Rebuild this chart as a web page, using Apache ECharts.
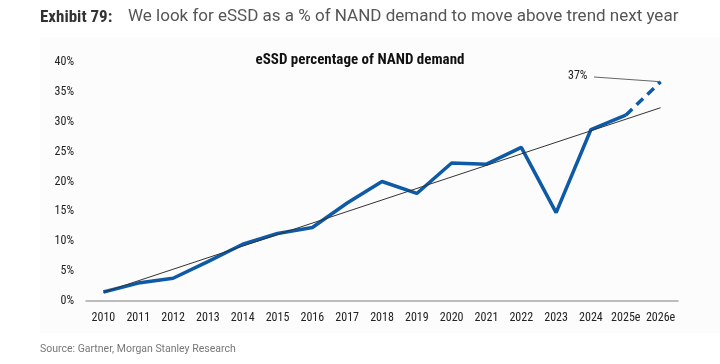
<!DOCTYPE html>
<html><head><meta charset="utf-8">
<script src="https://cdn.jsdelivr.net/npm/echarts@6/dist/echarts.min.js"></script>
<style>html,body{margin:0;padding:0;background:#fff}#c{width:720px;height:364px}</style>
</head><body><div id="c"></div>
<script>
const categories = ['2010','2011','2012','2013','2014','2015','2016','2017','2018','2019','2020','2021','2022','2023','2024','2025e','2026e'];
const essdShare = [1.5, 3.0, 3.8, 6.6, 9.5, 11.3, 12.3, 16.4, 20.0, 18.0, 23.1, 22.9, 25.7, 14.8, 28.7, 31.1, 36.7];
const forecastShare = [null,null,null,null,null,null,null,null,null,null,null,null,null,null,null,31.1,36.7];
const trendStart = 1.45, trendEnd = 32.35;
const yTicks = [0,5,10,15,20,25,30,35,40];

const solid = essdShare.map((v,i)=> i <= 15 ? v : null);
const FONT = '"Roboto Condensed","Liberation Sans Narrow","DejaVu Sans Condensed",Roboto,sans-serif';
const chart = echarts.init(document.getElementById('c'), null, {renderer:'canvas'});
chart.setOption({
  animation:false,
  backgroundColor:'#fff',
  graphic:[
    {type:'rect', shape:{x:40,y:37,width:680,height:296}, style:{fill:'#fcfcfc'}, z:-10},
    {type:'text', left:40, top:9, style:{text:'Exhibit 79:', fontFamily:FONT,fontWeight:'bold',fontSize:17,fill:'#333'}},
    {type:'text', left:128, top:8, style:{text:'We look for eSSD as a % of NAND demand to move above trend next year', fontFamily:'Roboto,sans-serif',fontSize:17,fill:'#555'}},
    {type:'text', left:40, top:344, style:{text:'Source: Gartner, Morgan Stanley Research', fontFamily:'Roboto,sans-serif', fontSize:10.5, fill:'#777'}},
    {type:'text', left:568, top:70, style:{text:'37%', fontFamily:FONT, fontSize:12, fill:'#222'}}
  ],
  title:{text:'eSSD percentage of NAND demand', left:'center', top:48, textStyle:{fontFamily:FONT,fontWeight:'bold',fontSize:15,color:'#111'}},
  grid:{left:86,right:42,top:62,bottom:63},
  xAxis:{type:'category', data:categories, boundaryGap:true,
    axisLine:{lineStyle:{color:'#a6a6a6',width:1.5}}, axisTick:{show:false},
    axisLabel:{interval:0,color:'#222',fontFamily:FONT,fontSize:12,margin:11}},
  yAxis:{type:'value', min:0, max:40, interval:5, splitLine:{show:false},
    axisLine:{show:false}, axisTick:{show:false},
    axisLabel:{color:'#222',fontFamily:FONT,fontSize:12,margin:12,formatter:v=>yTicks.includes(v)?v+'%':''}},
  series:[
    {type:'line', data:solid, symbol:'none', lineStyle:{color:'#0e5aa7',width:3.5}, z:3,
      markLine:{silent:true, symbol:'none', label:{show:false},
        lineStyle:{color:'#333',width:1,type:'solid'},
        data:[[{coord:[0,trendStart]},{coord:[16,trendEnd]}]]}},
    {type:'line', data:forecastShare, symbol:'none', lineStyle:{color:'#0e5aa7',width:3.5,type:[9,6]}, z:3,
      markLine:{silent:true, symbol:'none', label:{show:false}, lineStyle:{color:'#666',width:1,type:'solid'},
        data:[[{x:594,y:77},{coord:[16,36.7]}]]}}
  ]
});
</script></body></html>
